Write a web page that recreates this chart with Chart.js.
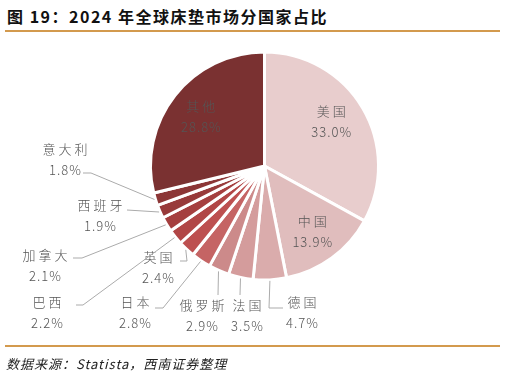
<!DOCTYPE html>
<html><head><meta charset="utf-8">
<script src="https://cdn.jsdelivr.net/npm/chart.js@4.4.1/dist/chart.umd.min.js"></script>
<style>
html,body{margin:0;padding:0;background:#fff;width:507px;height:378px;overflow:hidden;}
#wrap{position:absolute;left:0;top:0;width:507px;height:378px;}
#title{position:absolute;left:7px;top:4px;font:bold 16px "Noto Sans CJK SC",sans-serif;color:#111;letter-spacing:1.5px;white-space:nowrap;}
.rule{position:absolute;left:5px;width:495px;height:2px;background:#D39A4E;}
#src{position:absolute;left:6px;top:354px;font:italic 13px "Noto Sans CJK SC",sans-serif;color:#222;white-space:nowrap;letter-spacing:1px;}
</style></head>
<body>
<div id="title">图 19：2024 年全球床垫市场分国家占比</div>
<div class="rule" style="top:30px"></div>
<div id="wrap"><canvas id="c" width="507" height="378"></canvas></div>
<div class="rule" style="top:345px"></div>
<div id="src">数据来源：Statista，西南证券整理</div>
<script>
const categories = ['美国','中国','德国','法国','俄罗斯','日本','英国','巴西','加拿大','西班牙','意大利','其他'];
const shares = [33.0, 13.9, 4.7, 3.5, 2.9, 2.8, 2.4, 2.2, 2.1, 1.9, 1.8, 28.8];
const valueLabels = ['33.0%','13.9%','4.7%','3.5%','2.9%','2.8%','2.4%','2.2%','2.1%','1.9%','1.8%','28.8%'];
const colors = ['#E8CDCD','#E0BDBD','#DAACAC','#D49C9C','#CC8A8A','#C56464','#BD5050','#B14646','#A53F3F','#983A3A','#8C3636','#7A3131'];

// label layout: inside labels placed on mid-angle; outside labels with text position and leader path
const labelLayout = [
  {inside:true, f:0.71, dx:-3, dy:-4, color:'#555'},
  {inside:true, f:0.71, dx:0, dy:0, color:'#555'},
  {tx:302, ty:302, path:[[283,308],[269,308]]},
  {tx:247, ty:305, path:[[240,295]]},
  {tx:202, ty:305, path:[[218,295]]},
  {tx:135, ty:302, path:[[155,308],[163,308]]},
  {tx:158, ty:257, path:[[180,261],[187,261]]},
  {tx:47, ty:302, path:[[76,305],[83,305]]},
  {tx:45, ty:255, path:[[73,258],[82,258]]},
  {tx:100, ty:205, path:[[127,210]]},
  {tx:65, ty:149, path:[[83,173],[91,173]]},
  {inside:true, f:0.71, dx:0, dy:0, color:'#555555'}
];

const labelPlugin = {
  id:'labels',
  afterDraw(chart){
    const ctx = chart.ctx;
    const meta = chart.getDatasetMeta(0);
    ctx.save();
    meta.data.forEach((arc, i) => {
      const p = arc.getProps(['x','y','startAngle','endAngle','outerRadius']);
      const mid = (p.startAngle + p.endAngle)/2;
      const L = labelLayout[i];
      let tx, ty;
      if (L.inside){
        tx = p.x + Math.cos(mid)*p.outerRadius*L.f + L.dx;
        ty = p.y + Math.sin(mid)*p.outerRadius*L.f + L.dy - 10;
      } else {
        const ax = p.x + Math.cos(mid)*(p.outerRadius+1);
        const ay = p.y + Math.sin(mid)*(p.outerRadius+1);
        ctx.strokeStyle = '#ABABAB';
        ctx.lineWidth = 1;
        ctx.beginPath();
        ctx.moveTo(L.path[0][0], L.path[0][1]);
        for (let k=1;k<L.path.length;k++) ctx.lineTo(L.path[k][0], L.path[k][1]);
        ctx.lineTo(ax, ay);
        ctx.stroke();
        tx = L.tx; ty = L.ty;
      }
      ctx.fillStyle = L.color || '#555';
      ctx.textAlign = 'center';
      ctx.textBaseline = 'middle';
      ctx.font = '300 13px "Noto Sans CJK SC", sans-serif';
      ctx.letterSpacing = '3px';
      ctx.fillText(categories[i], tx + 1.5, ty);
      ctx.font = '300 13px "Noto Sans CJK SC", sans-serif';
      ctx.letterSpacing = '1px';
      ctx.fillText(valueLabels[i], tx + 0.5, ty + 21);
    });
    ctx.restore();
  }
};

new Chart(document.getElementById('c'), {
  type:'pie',
  data:{labels:categories, datasets:[{data:shares, backgroundColor:colors, borderColor:'#fff', borderWidth:3, radius:114}]},
  options:{
    responsive:false, animation:false,
    layout:{padding:{left:22, right:0, top:0, bottom:46}},
    plugins:{legend:{display:false}, tooltip:{enabled:false}}
  },
  plugins:[labelPlugin]
});
</script>
</body></html>
